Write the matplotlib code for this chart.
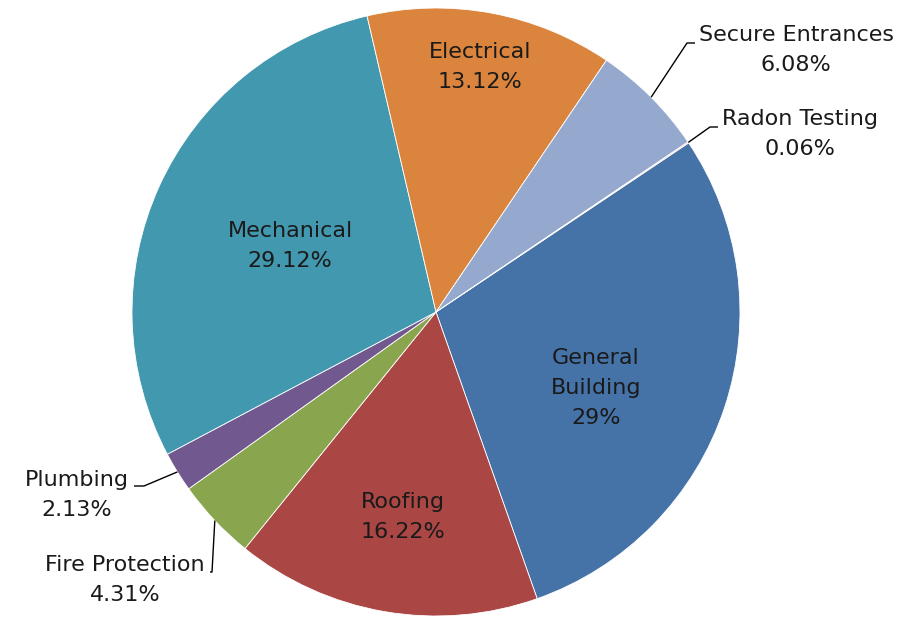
import matplotlib.pyplot as plt
import numpy as np

# Slice data (Highcharts order, drawn clockwise)
categories = ["General\nBuilding", "Roofing", "Fire Protection", "Plumbing",
              "Mechanical", "Electrical", "Secure Entrances", "Radon Testing"]
values = [29.0, 16.22, 4.31, 2.13, 29.12, 13.12, 6.08, 0.06]
pct_labels = ["29%", "16.22%", "4.31%", "2.13%", "29.12%", "13.12%", "6.08%", "0.06%"]
colors = ["#4572A7", "#AA4643", "#89A54E", "#71588F",
          "#4198AF", "#DB843D", "#95A9CF", "#D9A0A0"]

W, H = 905, 618
cx, cy, R = 436, 312, 304
start = 33.8

fig = plt.figure(figsize=(W / 100, H / 100), dpi=100)
ax = fig.add_axes([0, 0, 1, 1])

ax.pie(values, colors=colors, startangle=start, counterclock=False,
       center=(cx, H - cy), radius=R,
       wedgeprops=dict(edgecolor="white", linewidth=0.6))
ax.set_xlim(0, W)
ax.set_ylim(0, H)
ax.set_aspect("equal")
ax.axis("off")

# label centres in pixel coords (x, y measured from top)
label_pos = {
    0: (596, 388), 1: (403, 517), 4: (290, 246), 5: (480, 67),
    6: (796, 50), 7: (800, 134), 3: (77, 495), 2: (125, 580),
}
# connector elbow and end of the short horizontal, outside labels only
connectors = {
    6: ((687, 43), (695, 43)),
    7: ((710, 127), (718, 127)),
    3: ((144, 486), (134, 486)),
    2: ((212, 572), (210, 572)),
}

total = sum(values)
cum = np.cumsum(values)
txt_color = "#1a1a1a"
for i, (name, pct) in enumerate(zip(categories, pct_labels)):
    x, y = label_pos[i]
    ax.text(x, H - y, f"{name}\n{pct}", ha="center", va="center",
            multialignment="center", fontsize=16, color=txt_color,
            linespacing=1.65, family="DejaVu Sans")
    if i in connectors:
        mid = np.radians(start - 360 * (cum[i] - values[i] / 2) / total)
        ex = cx + R * np.cos(mid)
        ey = cy - R * np.sin(mid)
        (bx, by), (hx, hy) = connectors[i]
        ax.plot([ex, bx, hx], [H - ey, H - by, H - hy], color="#000000", lw=1.0,
                solid_capstyle="butt")

fig.savefig("out.png", dpi=100)
